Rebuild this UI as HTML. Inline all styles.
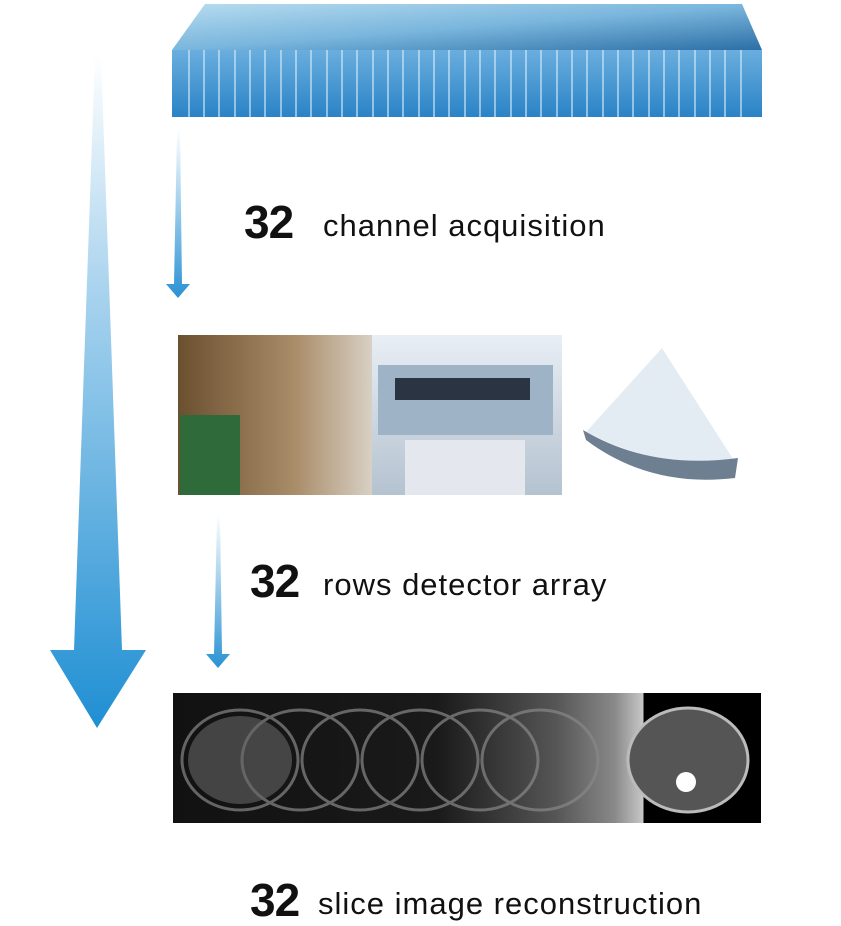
<!DOCTYPE html>
<html><head><meta charset="utf-8"><style>
html,body{margin:0;padding:0;background:#fff;}
body{width:841px;height:922px;position:relative;overflow:hidden;font-family:"Liberation Sans",sans-serif;}
.t{position:absolute;color:#111;white-space:nowrap;line-height:1;}
.t b{font-size:46px;font-weight:bold;letter-spacing:-1px;display:inline-block;}
.t span{font-size:31px;letter-spacing:1px;position:absolute;}
</style></head><body>
<svg width="841" height="922" style="position:absolute;left:0;top:0">
<defs>
<linearGradient id="big" x1="0" y1="0" x2="0" y2="1">
<stop offset="0" stop-color="#fff"/><stop offset="0.35" stop-color="#a9d3ee"/><stop offset="1" stop-color="#1f8fd3"/></linearGradient>
<linearGradient id="sm" x1="0" y1="0" x2="0" y2="1">
<stop offset="0" stop-color="#fff"/><stop offset="1" stop-color="#2a92d4"/></linearGradient>
<linearGradient id="front" x1="0" y1="0" x2="0" y2="1">
<stop offset="0" stop-color="#6aaede"/><stop offset="1" stop-color="#2a83c6"/></linearGradient>
<linearGradient id="top" x1="0" y1="0" x2="1" y2="1">
<stop offset="0" stop-color="#b7dcef"/><stop offset="0.5" stop-color="#7ab6dd"/><stop offset="1" stop-color="#2c6fa6"/></linearGradient>
<linearGradient id="ph1" x1="0" y1="0" x2="1" y2="0">
<stop offset="0" stop-color="#6b5030"/><stop offset="0.6" stop-color="#a98c68"/><stop offset="1" stop-color="#d8d0c4"/></linearGradient>
<linearGradient id="ph2" x1="0" y1="0" x2="0" y2="1">
<stop offset="0" stop-color="#e8eef4"/><stop offset="1" stop-color="#b5c2d0"/></linearGradient>
<linearGradient id="ct" x1="0" y1="0" x2="1" y2="0">
<stop offset="0" stop-color="#111"/><stop offset="0.45" stop-color="#1a1a1a"/><stop offset="0.65" stop-color="#555"/><stop offset="0.75" stop-color="#888"/><stop offset="0.8" stop-color="#c8c8c8"/><stop offset="0.8" stop-color="#000"/><stop offset="1" stop-color="#000"/></linearGradient>
</defs>
<polygon points="95,55 101,55 122,650 146,650 97,728 50,650 74,650" fill="url(#big)"/>
<polygon points="177,130 180,130 182,284 190,284 178,298 166,284 174,284" fill="url(#sm)"/>
<polygon points="217,515 220,515 222,654 230,654 218,668 206,654 214,654" fill="url(#sm)"/>
<polygon points="205,4 742,4 762,50 172,50" fill="url(#top)"/>
<rect x="172" y="50" width="590" height="67" fill="url(#front)"/>
<g stroke="#d6ecf8" stroke-width="1.3" opacity="0.9">
<path d="M189,50V117M204,50V117M219,50V117M235,50V117M250,50V117M265,50V117M281,50V117M296,50V117M311,50V117M327,50V117M342,50V117M357,50V117M373,50V117M388,50V117M403,50V117M419,50V117M434,50V117M449,50V117M465,50V117M480,50V117M495,50V117M511,50V117M526,50V117M541,50V117M557,50V117M572,50V117M587,50V117M603,50V117M618,50V117M633,50V117M649,50V117M664,50V117M679,50V117M695,50V117M710,50V117M725,50V117M741,50V117"/>
</g>
<rect x="178" y="335" width="194" height="160" fill="url(#ph1)"/>
<rect x="180" y="415" width="60" height="80" fill="#2f6b3a"/>
<rect x="372" y="335" width="190" height="160" fill="url(#ph2)"/>
<rect x="378" y="365" width="175" height="70" fill="#9fb3c6"/>
<rect x="395" y="378" width="135" height="22" fill="#2a3442"/>
<rect x="405" y="440" width="120" height="55" fill="#e4e8ee"/>
<path d="M662,348 L586,432 Q660,470 735,462 Z" fill="#dde7f0" opacity="0.8"/>
<path d="M583,430 Q650,470 738,458 L735,478 Q650,488 586,440 Z" fill="#6f7f92"/>
<rect x="173" y="693" width="588" height="130" fill="url(#ct)"/>
<g fill="none" stroke="#888" stroke-width="3" opacity="0.7">
<ellipse cx="240" cy="760" rx="58" ry="50"/>
<ellipse cx="300" cy="760" rx="58" ry="50"/>
<ellipse cx="360" cy="760" rx="58" ry="50"/>
<ellipse cx="420" cy="760" rx="58" ry="50"/>
<ellipse cx="480" cy="760" rx="58" ry="50"/>
<ellipse cx="540" cy="760" rx="58" ry="50"/>
</g>
<ellipse cx="688" cy="760" rx="60" ry="52" fill="#555" stroke="#bbb" stroke-width="3"/>
<ellipse cx="240" cy="760" rx="52" ry="44" fill="#666" opacity="0.6"/>
<circle cx="686" cy="782" r="10" fill="#fff"/>
</svg>
<div class="t" style="left:244px;top:199px"><b>32</b><span style="left:79px;top:11px">channel acquisition</span></div>
<div class="t" style="left:250px;top:558px"><b>32</b><span style="left:73px;top:11px">rows detector array</span></div>
<div class="t" style="left:250px;top:877px"><b>32</b><span style="left:68px;top:11px">slice image reconstruction</span></div>
</body></html>
